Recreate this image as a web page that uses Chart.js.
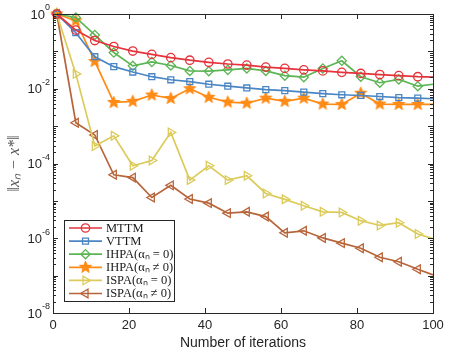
<!DOCTYPE html>
<html>
<head>
<meta charset="utf-8">
<script src="https://cdn.jsdelivr.net/npm/chart.js@4"></script>
<style>
html,body{margin:0;padding:0;background:#fff;}
#wrap{width:451px;height:356px;position:relative;}
</style>
</head>
<body>
<div id="wrap"><canvas id="c" width="451" height="356"></canvas></div>
<script>
// ---- data ----
const iterations = [1, 6, 11, 16, 21, 26, 31, 36, 41, 46, 51, 56, 61, 66, 71, 76, 81, 86, 91, 96, 100];
const seriesNames = ['MTTM', 'VTTM', 'IHPA(\u03B1\u2099 = 0)', 'IHPA(\u03B1\u2099 \u2260 0)', 'ISPA(\u03B1\u2099 = 0)', 'ISPA(\u03B1\u2099 \u2260 0)'];
const mttm = [1, 0.37, 0.195, 0.135, 0.102, 0.083, 0.068, 0.058, 0.051, 0.046, 0.043, 0.038, 0.035, 0.032, 0.030, 0.0275, 0.0257, 0.024, 0.0224, 0.021, 0.0204];
const vttm = [1, 0.316, 0.072, 0.039, 0.028, 0.021, 0.0174, 0.0155, 0.0132, 0.0117, 0.0105, 0.0095, 0.0089, 0.0081, 0.0074, 0.0069, 0.0066, 0.0062, 0.0058, 0.0056, 0.0054];
const ihpaZero = [1, 0.81, 0.275, 0.093, 0.041, 0.052, 0.042, 0.030, 0.0295, 0.032, 0.035, 0.030, 0.0224, 0.0204, 0.035, 0.056, 0.021, 0.0145, 0.0178, 0.0117, 0.0132];
const ihpaNonZero = [1, 0.66, 0.054, 0.0043, 0.0046, 0.0068, 0.0055, 0.010, 0.0059, 0.0044, 0.0041, 0.0056, 0.0046, 0.0056, 0.0039, 0.0038, 0.0076, 0.0039, 0.0038, 0.0038, 0.0038];
const ispaZero = [1, 0.025, 2.95e-4, 5.5e-4, 8.7e-5, 1.2e-4, 6.8e-4, 3.6e-5, 8.7e-5, 3.6e-5, 4.7e-5, 1.58e-5, 1.1e-5, 7.4e-6, 5.1e-6, 4.9e-6, 2.95e-6, 2.2e-6, 2.6e-6, 1.3e-6, 9.8e-7];
const ispaNonZero = [1, 1.23e-3, 5.8e-4, 5.0e-5, 4.2e-5, 1.23e-5, 2.6e-5, 1.12e-5, 8.7e-6, 4.7e-6, 5.1e-6, 3.8e-6, 1.4e-6, 1.58e-6, 1.02e-6, 7.4e-7, 5.4e-7, 3.1e-7, 2.35e-7, 1.48e-7, 1.05e-7];
const xTicks = [0, 20, 40, 60, 80, 100];
const yExponents = [0, -2, -4, -6, -8];

// ---- styling ----
const colors = ['#e5323b', '#4a86c4', '#5cb554', '#ff8a14', '#dccb5a', '#b8643a'];
const AXIS = '#262626';

function makeStar(r, color) {
  const c = document.createElement('canvas');
  const s = Math.ceil(2 * r + 2);
  c.width = s; c.height = s;
  const g = c.getContext('2d');
  g.beginPath();
  for (let i = 0; i < 10; i++) {
    const rad = i % 2 === 0 ? r : r * 0.42;
    const a = -Math.PI / 2 + i * Math.PI / 5;
    const px = s / 2 + rad * Math.cos(a), py = s / 2 + rad * Math.sin(a);
    if (i === 0) g.moveTo(px, py); else g.lineTo(px, py);
  }
  g.closePath();
  g.fillStyle = color; g.fill();
  g.strokeStyle = color; g.lineWidth = 1; g.stroke();
  return c;
}
const starImg = makeStar(6.3, colors[3]);

const markers = [
  {style: 'circle', rot: 0, r: 4.2},
  {style: 'rect', rot: 0, r: 4.2},
  {style: 'rectRot', rot: 0, r: 4.6},
  {style: starImg, rot: 0, r: 6},
  {style: 'triangle', rot: 90, r: 5},
  {style: 'triangle', rot: -90, r: 5}
];
const allSeries = [mttm, vttm, ihpaZero, ihpaNonZero, ispaZero, ispaNonZero];

const datasets = allSeries.map((vals, k) => ({
  label: seriesNames[k],
  data: iterations.map((x, i) => ({x: x, y: vals[i]})),
  borderColor: colors[k],
  backgroundColor: 'rgba(0,0,0,0)',
  borderWidth: 1.7,
  pointStyle: markers[k].style,
  pointRotation: markers[k].rot,
  pointRadius: iterations.map((x, i) => i === iterations.length - 1 ? 0 : markers[k].r),
  pointBorderWidth: 1.3,
  pointBorderColor: colors[k],
  pointBackgroundColor: k === 3 ? colors[3] : 'rgba(0,0,0,0)',
  tension: 0,
  clip: false
}));

const framePlugin = {
  id: 'frame',
  afterDatasetsDraw(chart) {
    const ctx = chart.ctx, a = chart.chartArea;
    const xs = chart.scales.x, ys = chart.scales.y;
    ctx.save();
    ctx.strokeStyle = AXIS; ctx.lineWidth = 1;
    ctx.beginPath();
    xTicks.forEach(v => {
      const px = Math.round(xs.getPixelForValue(v)) + 0.5;
      ctx.moveTo(px, a.bottom); ctx.lineTo(px, a.bottom - 5);
      ctx.moveTo(px, a.top); ctx.lineTo(px, a.top + 5);
    });
    for (let e = -8; e <= 0; e++) {
      for (let m = 1; m <= 9; m++) {
        const v = m * Math.pow(10, e);
        if (v > 1.0000001) continue;
        const py = Math.round(ys.getPixelForValue(v)) + 0.5;
        const len = m === 1 ? 5 : 3;
        ctx.moveTo(a.left, py); ctx.lineTo(a.left + len, py);
        ctx.moveTo(a.right, py); ctx.lineTo(a.right - len, py);
      }
    }
    ctx.stroke();
    ctx.strokeRect(Math.round(a.left) + 0.5, Math.round(a.top) + 0.5, Math.round(a.right - a.left), Math.round(a.bottom - a.top));
    ctx.restore();
  },
  afterDraw(chart) {
    const ctx = chart.ctx, a = chart.chartArea;
    const ys = chart.scales.y;
    ctx.save();
    ctx.fillStyle = AXIS;
    ctx.textBaseline = 'middle';
    yExponents.forEach(e => {
      const py = ys.getPixelForValue(Math.pow(10, e));
      const expTxt = e === 0 ? '0' : '-' + Math.abs(e);
      ctx.font = '9px "Liberation Sans", Arial, sans-serif';
      const ew = ctx.measureText(expTxt).width;
      const rightX = a.left - 3;
      ctx.textAlign = 'left';
      ctx.fillText(expTxt, rightX - ew, py - 6);
      ctx.font = '13px "Liberation Sans", Arial, sans-serif';
      const bw = ctx.measureText('10').width;
      ctx.fillText('10', rightX - ew - bw, py + 1);
    });
    // y axis title
    ctx.save();
    ctx.translate(15, (a.top + a.bottom) / 2);
    ctx.rotate(-Math.PI / 2);
    ctx.textAlign = 'center';
    ctx.textBaseline = 'middle';
    ctx.fillStyle = '#555';
    ctx.font = 'italic 16px "Liberation Serif", "Times New Roman", serif';
    ctx.fillText('\u2016x\u2099 \u2212 x*\u2016', 0, 0);
    ctx.restore();

    // legend
    const bx = 64.5, by = 220.5, bw2 = 110, bh = 81;
    ctx.fillStyle = '#fff';
    ctx.fillRect(bx, by, bw2, bh);
    ctx.strokeStyle = AXIS; ctx.lineWidth = 1;
    ctx.strokeRect(bx, by, bw2, bh);
    ctx.font = '12.5px "Liberation Serif", "Times New Roman", serif';
    ctx.textAlign = 'left'; ctx.textBaseline = 'middle';
    chart.data.datasets.forEach((ds, k) => {
      const y = by + 7.5 + k * 13.1;
      ctx.strokeStyle = ds.borderColor; ctx.lineWidth = 1.7;
      ctx.beginPath(); ctx.moveTo(69, y); ctx.lineTo(102, y); ctx.stroke();
      ctx.lineWidth = 1.3;
      ctx.fillStyle = ds.pointBackgroundColor;
      Chart.helpers.drawPoint(ctx, {pointStyle: ds.pointStyle, rotation: ds.pointRotation, radius: markers[k].r, borderWidth: 1.3}, 85.5, y);
      ctx.fillStyle = '#1a1a1a';
      ctx.fillText(ds.label, 106, y + 0.5);
    });
    ctx.restore();
  }
};

new Chart(document.getElementById('c'), {
  type: 'line',
  data: {datasets: datasets},
  plugins: [framePlugin],
  options: {
    responsive: false,
    animation: false,
    events: [],
    layout: {padding: {left: 0, right: 18, top: 14, bottom: 0}},
    plugins: {legend: {display: false}, tooltip: {enabled: false}},
    scales: {
      x: {
        type: 'linear', min: 0, max: 100,
        grid: {display: false, drawTicks: false},
        border: {display: false},
        afterBuildTicks: s => { s.ticks = xTicks.map(v => ({value: v})); },
        afterFit: s => { s.height = 43; },
        ticks: {color: AXIS, padding: 5, maxRotation: 0, font: {family: '"Liberation Sans", Arial, sans-serif', size: 13}},
        title: {display: true, text: 'Number of iterations', color: AXIS, padding: {top: 0, bottom: 4}, font: {family: '"Liberation Sans", Arial, sans-serif', size: 14}}
      },
      y: {
        type: 'logarithmic', min: 1e-8, max: 1,
        grid: {display: false, drawTicks: false},
        border: {display: false},
        ticks: {display: false},
        afterFit: s => { s.width = 53; }
      }
    }
  }
});
</script>
</body>
</html>
